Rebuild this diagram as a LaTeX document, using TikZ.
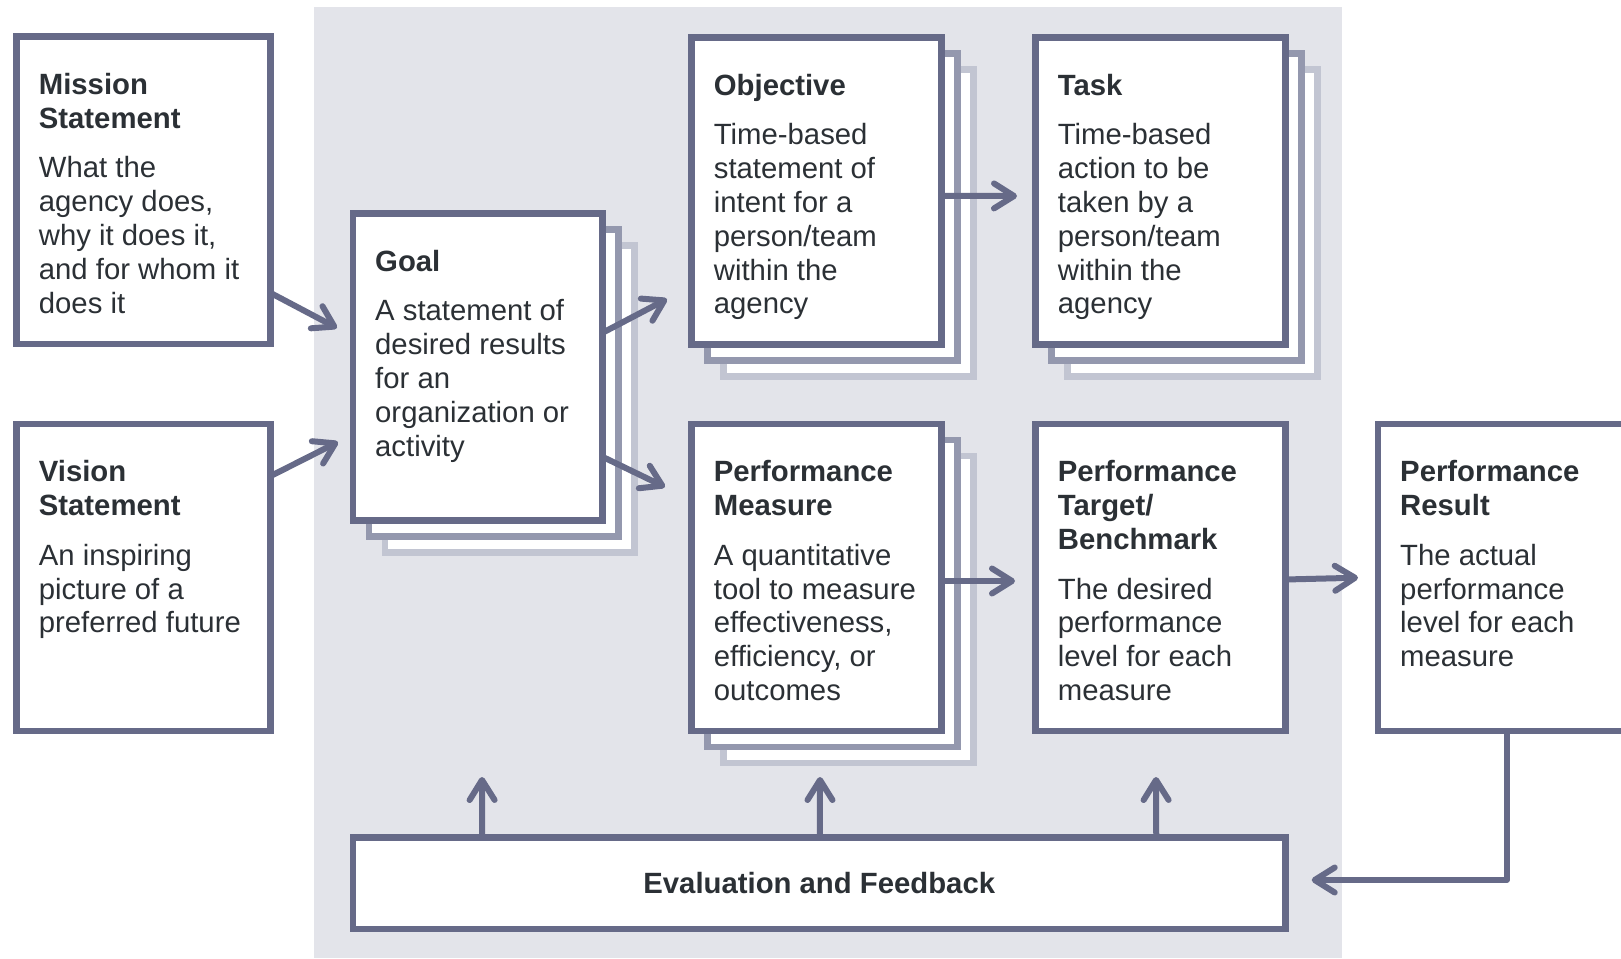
\documentclass[tikz,border=0pt]{standalone}
\usepackage{fontspec}
\setmainfont{Liberation Sans}
\usetikzlibrary{arrows.meta,calc}
\definecolor{frontc}{RGB}{102,106,136}
\definecolor{midc}{RGB}{148,152,174}
\definecolor{backc}{RGB}{194,197,210}
\definecolor{bgc}{RGB}{227,228,234}
\definecolor{txtc}{RGB}{43,48,53}
\newcommand{\firststrut}{\rule{0pt}{25pt}}
\newcommand{\pgap}{\\[16pt]}
\pgfdeclarelayer{back}
\pgfdeclarelayer{stack}
\pgfsetlayers{back,stack,main}
\begin{document}
\begin{tikzpicture}[x=1pt,y=-1pt,
  box/.style={draw=frontc, fill=white, line width=6.5pt, inner sep=0pt, outer sep=0pt,
    minimum width=250pt, minimum height=307pt, anchor=north west},
  txt/.style={text=txtc, font=\fontsize{29.3}{33.8}\selectfont, align=left, inner sep=0pt, anchor=north west},
  arr/.style={draw=frontc, line width=6pt, line cap=round, line join=round,
    -{Straight Barb[length=20pt,width=25pt,round]}},
  layerm/.style={draw=midc, fill=white, line width=6.5pt},
  layerb/.style={draw=backc, fill=white, line width=6.5pt}]
\useasboundingbox (0,0) rectangle (1621,958);
\clip (0,0) rectangle (1621,958);

\begin{pgfonlayer}{back}
  \fill[bgc] (314,7) rectangle (1342,958);
\end{pgfonlayer}

% boxes
\node[box, minimum width=254pt, minimum height=307.5pt] (mission) at (16.7,36.5) {};
\node[box, minimum width=254pt] (vision) at (16.7,424) {};
\node[box, minimum width=249.5pt] (goal) at (353,213.3) {};
\node[box] (objective) at (691.7,37.3) {};
\node[box, minimum width=249.6pt] (task) at (1035.7,37.3) {};
\node[box] (measure) at (691.7,424) {};
\node[box, minimum width=249.6pt] (target) at (1035.7,424) {};
\node[box] (result) at (1378,424) {};
\node[box, minimum width=932.5pt, minimum height=91.5pt] (eval) at (353,837.5) {};

% stacked copies
\begin{pgfonlayer}{stack}
  \foreach \n in {goal,objective,task,measure} {
    \draw[layerb] ([shift={(32,32)}]\n.north west) rectangle ([shift={(32,32)}]\n.south east);
    \draw[layerm] ([shift={(16,16)}]\n.north west) rectangle ([shift={(16,16)}]\n.south east);
  }
\end{pgfonlayer}

% texts (first baseline 57pt below the box top)
\node[txt] (missiont) at ($(mission.north west)+(22,32.5)$)
  {\firststrut\textbf{Mission}\\\textbf{Statement}\pgap What the\\agency does,\\why it does it,\\and for whom it\\does it};
\node[txt] (visiont) at ($(vision.north west)+(22,32.5)$)
  {\firststrut\textbf{Vision}\\\textbf{Statement}\pgap An inspiring\\picture of a\\preferred future};
\node[txt] (goalt) at ($(goal.north west)+(22,32.5)$)
  {\firststrut\textbf{Goal}\pgap A statement of\\desired results\\for an\\organization or\\activity};
\node[txt] (objectivet) at ($(objective.north west)+(22,32.5)$)
  {\firststrut\textbf{Objective}\pgap Time-based\\statement of\\intent for a\\person/team\\within the\\agency};
\node[txt] (taskt) at ($(task.north west)+(22,32.5)$)
  {\firststrut\textbf{Task}\pgap Time-based\\action to be\\taken by a\\person/team\\within the\\agency};
\node[txt] (measuret) at ($(measure.north west)+(22,32.5)$)
  {\firststrut\textbf{Performance}\\\textbf{Measure}\pgap A quantitative\\tool to measure\\effectiveness,\\efficiency, or\\outcomes};
\node[txt] (targett) at ($(target.north west)+(22,32.5)$)
  {\firststrut\textbf{Performance}\\\textbf{Target/}\\\textbf{Benchmark}\pgap The desired\\performance\\level for each\\measure};
\node[txt] (resultt) at ($(result.north west)+(22,32.5)$)
  {\firststrut\textbf{Performance}\\\textbf{Result}\pgap The actual\\performance\\level for each\\measure};
\node[text=txtc, font=\bfseries\fontsize{29.3}{33.8}\selectfont, inner sep=0pt] (evalt) at (eval.center)
  {Evaluation and Feedback};

% arrow tips
\coordinate (tipMG) at (337,328);
\coordinate (tipVG) at (338,442);
\coordinate (tipGO) at (667,299);
\coordinate (tipGM) at (665,487);
\coordinate (tipOT) at (1017,196);
\coordinate (tipMT) at (1015,581);
\coordinate (tipTR) at (1358,577.7);
\coordinate (tipRE) at (1311.7,880);
\coordinate (fbA) at (482,777);
\coordinate (fbB) at (820,777);
\coordinate (fbC) at (1156,777);

\draw[arr] ([yshift=-102.75pt]mission.east) -- (tipMG);
\draw[arr] ([yshift=101.5pt]vision.east) -- (tipVG);
\draw[arr] ([yshift=34pt]goal.east) -- (tipGO);
\draw[arr] ([yshift=-90pt]goal.east) -- (tipGM);
\draw[arr] ([yshift=-5pt]objective.east) -- (tipOT);
\draw[arr] ([yshift=-3.5pt]measure.east) -- (tipMT);
\draw[arr] ([yshift=-2pt]target.east) -- (tipTR);
\draw[arr] ([xshift=3.7pt]result.south) |- (tipRE);
\draw[arr] ([xshift=-337pt]eval.north) -- (fbA);
\draw[arr] ([xshift=0.7pt]eval.north) -- (fbB);
\draw[arr] ([xshift=337pt]eval.north) -- (fbC);
\end{tikzpicture}
\end{document}
